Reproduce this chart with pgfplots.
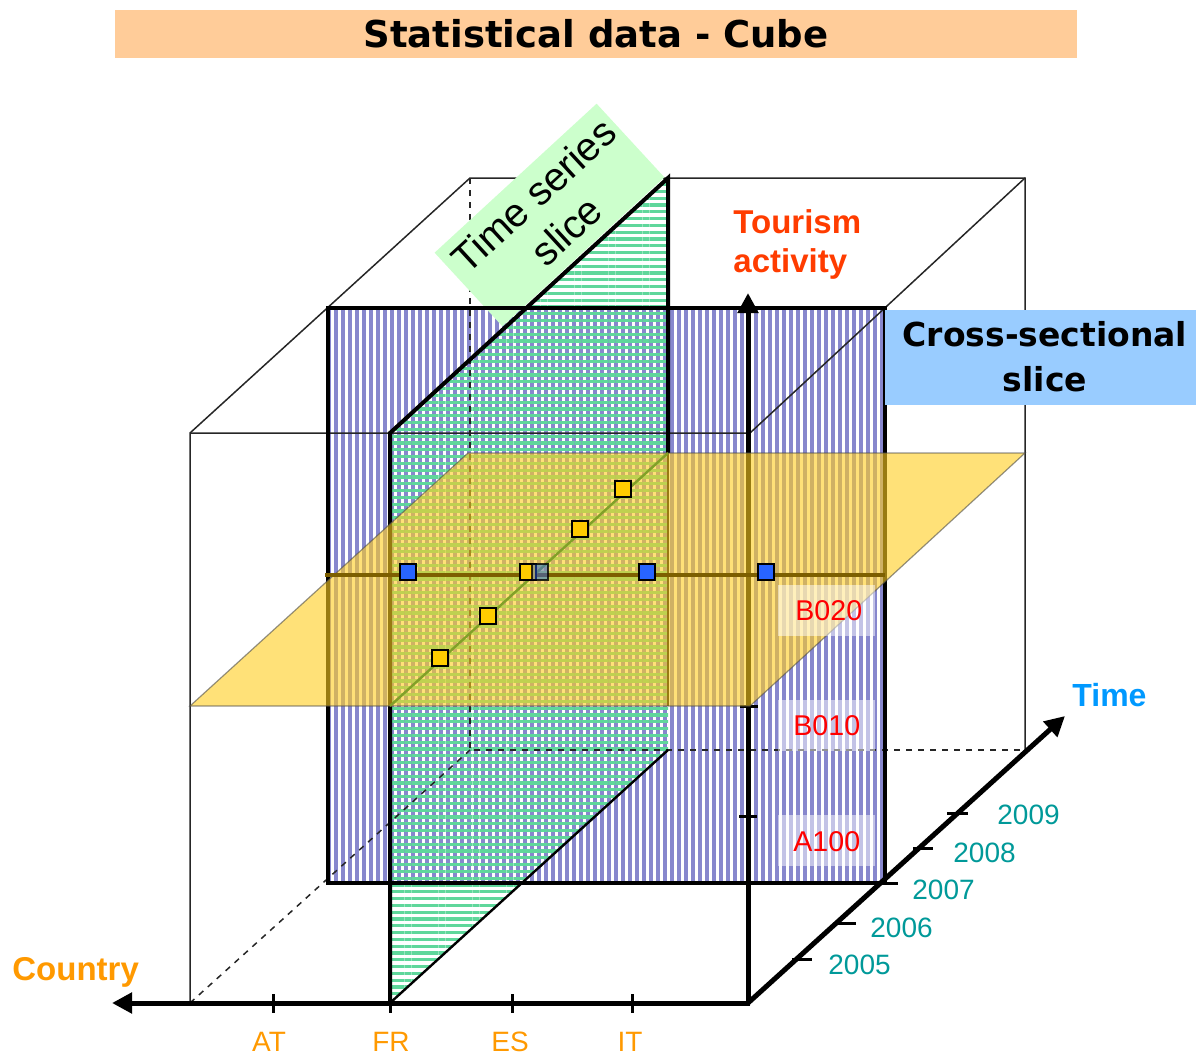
\documentclass[border=0pt]{standalone}
\usepackage{fontspec}
\setmainfont{Liberation Sans}
\newfontfamily\dv{DejaVu Sans}
\usepackage{pgfplots}
\pgfplotsset{compat=1.18}
\usetikzlibrary{patterns.meta,arrows.meta}
\definecolor{stripeblue}{RGB}{135,135,205}
\definecolor{stripegreen}{RGB}{95,215,155}
\definecolor{titlebg}{RGB}{255,204,153}
\definecolor{csbox}{RGB}{153,204,255}
\definecolor{tsbox}{RGB}{204,255,204}
\definecolor{planeyellow}{RGB}{255,205,30}
\definecolor{mkyellow}{RGB}{255,204,0}
\definecolor{mkblue}{RGB}{40,100,255}
\definecolor{tourred}{RGB}{255,60,0}
\definecolor{timeblue}{RGB}{0,153,255}
\definecolor{ctryorange}{RGB}{255,153,0}
\definecolor{yearteal}{RGB}{0,153,153}
\definecolor{olivel}{RGB}{125,95,0}
\definecolor{oliveg}{RGB}{130,160,40}
\begin{document}
\begin{tikzpicture}
\begin{axis}[hide axis, scale only axis, width=598pt, height=527.5pt,
  xmin=0, xmax=1196, ymin=0, ymax=1055, y dir=reverse, clip=false]
\path (axis cs:0,0) rectangle (axis cs:1196,1055);
% title
\addplot[fill=titlebg, draw=none] coordinates {(115,10)(1077,10)(1077,58)(115,58)} -- cycle;
\node[inner sep=0pt, font={\dv\bfseries\fontsize{18.5}{22}\selectfont}] at (axis cs:596,34) {Statistical data - Cube};
% cross-sectional plane
\addplot[pattern={Lines[angle=90,distance=3.5pt,line width=1.6pt]}, pattern color=stripeblue, draw=none]
  coordinates {(328,308)(885,308)(885,883)(328,883)} -- cycle;
% time series slice
\addplot[pattern={Lines[angle=0,distance=3.4pt,line width=1.6pt]}, pattern color=stripegreen, draw=none]
  coordinates {(390,433)(668,178)(668,750)(390,1003)} -- cycle;
% thin cube edges
\addplot[line width=0.75pt, black!85] coordinates {(190,1003)(190,433)(470,178)(1025,178)(1025,750)};
\addplot[line width=0.75pt, black!85] coordinates {(190,433)(750,433)(1025,178)};
\addplot[line width=0.75pt, black!85, dashed] coordinates {(470,178)(470,750)(1025,750)};
\addplot[line width=0.75pt, black!85, dashed] coordinates {(190,1003)(470,750)};
% time series label box
\addplot[fill=tsbox, draw=none] coordinates {(596.6,103.7)(664.4,177.3)(502.4,326.3)(434.6,252.7)} -- cycle;
\node[inner sep=0pt, rotate=42.6, align=center, font={\fontsize{20}{24}\selectfont}] at (axis cs:550,213) {Time series\\slice};
% thick borders
\addplot[line width=2pt] coordinates {(328,308)(885,308)(885,883)(328,883)} -- cycle;
\addplot[line width=2pt] coordinates {(390,1003)(390,433)(668,178)(668,453)};
\addplot[line width=1pt] coordinates {(668,453)(668,706)};
\addplot[line width=1.2pt] coordinates {(390,1003)(668,750)};
% tourism activity axis
\addplot[line width=2.5pt, -{Triangle[length=10pt,width=10pt]}] coordinates {(748,1003)(748,293)};
\addplot[line width=1.5pt] coordinates {(739,816)(757,816)};
\addplot[line width=1.5pt] coordinates {(740,706)(758,706)};
% horizontal plane
\addplot[fill=planeyellow, fill opacity=0.6, draw=black!70, draw opacity=0.6, line width=0.6pt]
  coordinates {(190,706)(750,706)(1025,453)(468,453)} -- cycle;
% intersection lines
\addplot[line width=1.6pt, olivel] coordinates {(325,575)(885,575)};
\addplot[line width=1.2pt, oliveg] coordinates {(390,706)(668,453)};
% markers
\addplot[only marks, mark=square*, mark size=4pt, mark options={fill=mkyellow, draw=black, line width=0.8pt}]
  coordinates {(440,658)(488,616)(580,529)(623,489)(528,572)};
\addplot[only marks, mark=square*, mark size=4pt, mark options={fill=mkblue, fill opacity=0.45, draw=black, draw opacity=0.8, line width=0.8pt}]
  coordinates {(540,572)};
\addplot[only marks, mark=square*, mark size=4pt, mark options={fill=mkblue, draw=black, line width=0.8pt}]
  coordinates {(408,572)(647,572)(766,572)};
% country axis
\addplot[line width=2.5pt, -{Triangle[length=10pt,width=10pt]}] coordinates {(750,1003)(112,1003)};
\addplot[line width=1.5pt] coordinates {(273,994)(273,1013)};
\addplot[line width=1.5pt] coordinates {(390,994)(390,1013)};
\addplot[line width=1.5pt] coordinates {(512,994)(512,1013)};
\addplot[line width=1.5pt] coordinates {(632,994)(632,1013)};
% time axis
\addplot[line width=2.5pt, -{Triangle[length=10pt,width=10pt]}] coordinates {(748,1003)(1065,716)};
\addplot[line width=1.5pt] coordinates {(792,959)(812,959)};
\addplot[line width=1.5pt] coordinates {(835,923)(856,923)};
\addplot[line width=1.5pt] coordinates {(880,883)(898,883)};
\addplot[line width=1.5pt] coordinates {(913,848)(933,848)};
\addplot[line width=1.5pt] coordinates {(947,813)(968,813)};
% label boxes for B020 etc
\addplot[fill=white, fill opacity=0.5, draw=none] coordinates {(778,585)(875,585)(875,636)(778,636)} -- cycle;
\addplot[fill=white, fill opacity=0.5, draw=none] coordinates {(778,700)(875,700)(875,751)(778,751)} -- cycle;
\addplot[fill=white, fill opacity=0.5, draw=none] coordinates {(778,815)(875,815)(875,866)(778,866)} -- cycle;
\node[inner sep=0pt, anchor=base west, text=red, font={\fontsize{14.3}{17}\selectfont}] at (axis cs:795,620) {B020};
\node[inner sep=0pt, anchor=base west, text=red, font={\fontsize{14.3}{17}\selectfont}] at (axis cs:793,735) {B010};
\node[inner sep=0pt, anchor=base west, text=red, font={\fontsize{14.3}{17}\selectfont}] at (axis cs:793,851) {A100};
% cross-sectional label
\addplot[fill=csbox, draw=none] coordinates {(885,310)(1196,310)(1196,405)(885,405)} -- cycle;
\node[inner sep=0pt, align=center, font={\dv\bfseries\fontsize{16.5}{22.5}\selectfont}] at (axis cs:1045,357) {Cross-sectional\\slice};
% axis titles
\node[inner sep=0pt, anchor=base west, text=tourred, font={\bfseries\fontsize{16.5}{20}\selectfont}] at (axis cs:733,233) {Tourism};
\node[inner sep=0pt, anchor=base west, text=tourred, font={\bfseries\fontsize{16.5}{20}\selectfont}] at (axis cs:733,272) {activity};
\node[inner sep=0pt, anchor=base west, text=timeblue, font={\bfseries\fontsize{16}{20}\selectfont}] at (axis cs:1072,706) {Time};
\node[inner sep=0pt, anchor=base west, text=ctryorange, font={\bfseries\fontsize{16.5}{20}\selectfont}] at (axis cs:12,980) {Country};
% country labels
\node[inner sep=0pt, anchor=base, text=ctryorange, font={\fontsize{14}{17}\selectfont}] at (axis cs:269,1051) {AT};
\node[inner sep=0pt, anchor=base, text=ctryorange, font={\fontsize{14}{17}\selectfont}] at (axis cs:391,1051) {FR};
\node[inner sep=0pt, anchor=base, text=ctryorange, font={\fontsize{14}{17}\selectfont}] at (axis cs:510,1051) {ES};
\node[inner sep=0pt, anchor=base, text=ctryorange, font={\fontsize{14}{17}\selectfont}] at (axis cs:630,1051) {IT};
% year labels
\node[inner sep=0pt, anchor=base west, text=yearteal, font={\fontsize{14}{17}\selectfont}] at (axis cs:828,974) {2005};
\node[inner sep=0pt, anchor=base west, text=yearteal, font={\fontsize{14}{17}\selectfont}] at (axis cs:870,937) {2006};
\node[inner sep=0pt, anchor=base west, text=yearteal, font={\fontsize{14}{17}\selectfont}] at (axis cs:912,899) {2007};
\node[inner sep=0pt, anchor=base west, text=yearteal, font={\fontsize{14}{17}\selectfont}] at (axis cs:953,862) {2008};
\node[inner sep=0pt, anchor=base west, text=yearteal, font={\fontsize{14}{17}\selectfont}] at (axis cs:997,824) {2009};
\end{axis}
\end{tikzpicture}
\end{document}
